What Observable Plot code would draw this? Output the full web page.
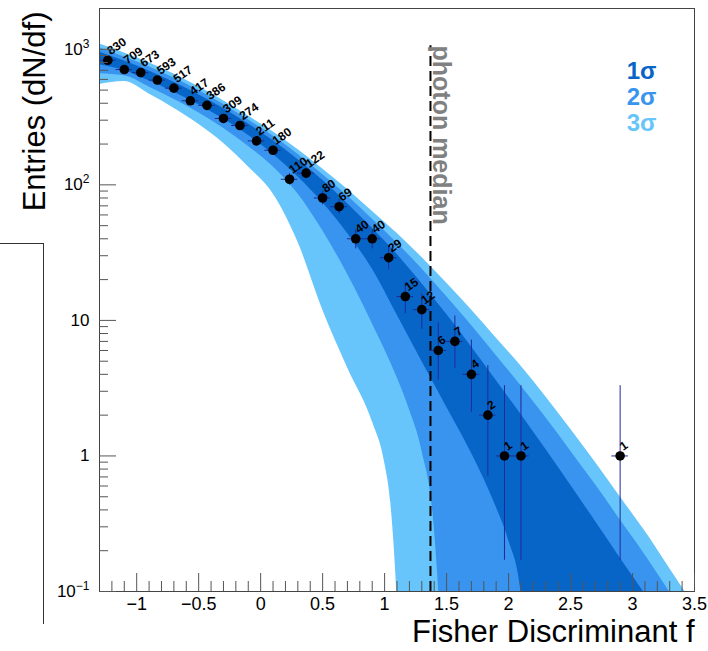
<!DOCTYPE html>
<html>
<head>
<meta charset="utf-8">
<script src="https://cdn.jsdelivr.net/npm/d3@7"></script>
<script src="https://cdn.jsdelivr.net/npm/@observablehq/plot@0.6"></script>
<style>
  html, body { margin: 0; padding: 0; background: #fff; }
  #wrap { position: relative; width: 708px; height: 651px; overflow: hidden; font-family: "Liberation Sans", Arial, sans-serif; }
  #sidebox { position: absolute; z-index: 2; left: -2px; top: 243px; width: 45px; height: 380px; border-top: 1px solid #333; border-right: 1px solid #333; }
  #chart { position: absolute; z-index: 1; left: 0; top: 0; }
</style>
</head>
<body>
<div id="wrap"><div id="chart"></div><div id="sidebox"></div></div>
<script>
// ---------- data ----------
const binCenters = [-1.233, -1.1, -0.967, -0.833, -0.7, -0.567, -0.433, -0.3, -0.167, -0.033,
  0.1, 0.233, 0.367, 0.5, 0.633, 0.767, 0.9, 1.033, 1.167, 1.3, 1.433, 1.567, 1.7, 1.833, 1.967, 2.1, 2.9];
const counts = [830, 709, 673, 593, 517, 417, 386, 309, 274, 211,
  180, 110, 122, 80, 69, 40, 40, 29, 15, 12, 6, 7, 4, 2, 1, 1, 1];
const errLow = [801, 682, 647, 569, 494, 397, 366, 291, 258, 197,
  167, 99.5, 111, 71.2, 60.7, 33.7, 33.7, 23.6, 11.2, 8.6, 3.62, 4.42, 2.09, 0.71, 0.17, 0.17, 0.17];
const errHigh = [859, 736, 699, 617, 540, 437, 406, 327, 291, 226,
  194, 121, 133, 89.4, 77.8, 46.8, 46.8, 34.9, 19.0, 15.7, 9.58, 10.77, 7.16, 4.64, 3.30, 3.30, 3.30];
const halfBin = 0.0667;

// band edges
const hiF = [-1.3, -1.1, -0.9, -0.7, -0.5, -0.3, -0.1, 0.1, 0.3, 0.5, 0.7, 0.9, 1.1, 1.3, 1.5, 1.7, 1.9, 2.1, 2.3, 2.5, 2.7, 2.9, 3.1, 3.3, 3.5];
const hi3 = [1092, 939, 796, 657, 530, 418, 322, 246, 182, 131, 93, 64, 44, 29.2, 18.9, 12.0, 7.43, 4.6, 2.73, 1.58, 0.90, 0.50, 0.279, 0.148, 0.078];
const hi2 = [1021, 879, 744, 615, 497, 392, 302, 229, 168, 119, 83, 56, 37.3, 24.0, 15.0, 9.2, 5.5, 3.3, 1.92, 1.09, 0.615, 0.338, 0.187, 0.099, 0.052];
const hi1 = [951, 820, 692, 572, 463, 366, 282, 212, 154, 108, 73, 48, 30.7, 18.7, 11.1, 6.4, 3.6, 2.03, 1.12, 0.61, 0.33, 0.177, 0.096, 0.050, 0.026];

const lo1F = [-1.3, -1.1, -0.9, -0.7, -0.5, -0.3, -0.1, 0.1, 0.3, 0.5, 0.7, 0.9, 1.1, 1.3, 1.5, 1.7, 1.9, 2.0, 2.1, 2.2];
const lo1 = [770, 699, 585, 482, 390, 306, 232, 168, 115, 74, 44, 24, 11, 5.0, 2.3, 1.05, 0.42, 0.24, 0.1, 0.005];
const lo2F = [-1.3, -1.1, -0.9, -0.7, -0.5, -0.3, -0.1, 0.1, 0.3, 0.5, 0.7, 0.9, 1.1, 1.2, 1.3, 1.4, 1.45, 1.5];
const lo2 = [660, 638, 528, 428, 340, 262, 193, 136, 86, 46, 22, 9.5, 3.8, 2.2, 1.1, 0.3, 0.06, 0.005];
const lo3F = [-1.3, -1.1, -0.9, -0.7, -0.5, -0.3, -0.1, 0.1, 0.3, 0.5, 0.7, 0.9, 1.0, 1.05, 1.1, 1.15];
const lo3 = [550, 578, 468, 368, 280, 203, 136, 86, 38, 12, 4.5, 1.8, 0.9, 0.45, 0.09, 0.005];

const photonMedian = 1.37;
const medianTop = 1060;

const xMajor = [-1, -0.5, 0, 0.5, 1, 1.5, 2, 2.5, 3, 3.5];
const xMinor = [-1.2, -1.1, -0.9, -0.8, -0.7, -0.6, -0.4, -0.3, -0.2, -0.1, 0.1, 0.2, 0.3, 0.4, 0.6, 0.7, 0.8, 0.9,
  1.1, 1.2, 1.3, 1.4, 1.6, 1.7, 1.8, 1.9, 2.1, 2.2, 2.3, 2.4, 2.6, 2.7, 2.8, 2.9, 3.1, 3.2, 3.3, 3.4];
const yMajor = [0.1, 1, 10, 100, 1000];
const yMinor = [0.2, 0.3, 0.4, 0.5, 0.6, 0.7, 0.8, 0.9, 2, 3, 4, 5, 6, 7, 8, 9,
  20, 30, 40, 50, 60, 70, 80, 90, 200, 300, 400, 500, 600, 700, 800, 900];
const yTickText = {0.1: "10^\u22121", 1: "1", 10: "10", 100: "10^2", 1000: "10^3"};

const legendLabels = ["1\u03c3", "2\u03c3", "3\u03c3"];
const xTitle = "Fisher Discriminant f";
const yTitle = "Entries (dN/df)";
const medianLabel = "photon median";

// ---------- styles ----------
const c1 = "#0865c8", c2 = "#3894ee", c3 = "#68c5fb";
const errColor = "#1f2a9a";
const floorVal = 1e-3;

const pts = counts.map((v, i) => ({f: binCenters[i], v, lo: errLow[i], hi: errHigh[i]}));
const edge = (F, V) => F.map((f, i) => ({f, v: V[i]}));
const bandArea = (F, V, fill) => Plot.areaY(edge(F, V), {x: "f", y1: "v", y2: () => floorVal, fill, curve: "monotone-x", clip: true});
const fmtX = d => (d < 0 ? "\u2212" : "") + String(Math.abs(d));

const chart = Plot.plot({
  width: 708,
  height: 651,
  marginLeft: 99,
  marginRight: 14,
  marginTop: 8,
  marginBottom: 60,
  style: {fontFamily: "'Liberation Sans', Arial, sans-serif", background: "transparent", color: "#000"},
  x: {domain: [-1.3, 3.5], label: null},
  y: {type: "log", domain: [0.1, 2000], label: null},
  marks: [
    bandArea(hiF, hi3, c3),
    bandArea(hiF, hi2, c2),
    bandArea(hiF, hi1, c1),
    bandArea(lo1F, lo1, c2),
    bandArea(lo2F, lo2, c3),
    bandArea(lo3F, lo3, "#fff"),
    Plot.ruleX([photonMedian], {x: d => d, y1: 0.1, y2: medianTop, stroke: "#000", strokeWidth: 2, strokeDasharray: "10,5"}),
    Plot.text([medianLabel], {x: () => photonMedian, frameAnchor: "top", dy: 37, dx: 11, rotate: 90, textAnchor: "start", lineAnchor: "middle", fill: "#808080", fontSize: 25, fontWeight: "bold"}),
    Plot.ruleX(pts, {x: "f", y1: "lo", y2: "hi", stroke: errColor, strokeWidth: 1}),
    Plot.ruleY(pts, {y: "v", x1: d => d.f - halfBin, x2: d => d.f + halfBin, stroke: errColor, strokeWidth: 1}),
    Plot.dot(pts, {x: "f", y: "v", r: 4.8, fill: "#000", stroke: "none"}),
    Plot.text(pts, {x: "f", y: "v", text: d => String(d.v), rotate: -35, textAnchor: "start", lineAnchor: "bottom", dx: 3, dy: -5, fontSize: 12, fontWeight: "bold", fill: "#000"}),
    Plot.frame({stroke: "#444", strokeWidth: 1}),
    Plot.axisX({ticks: xMajor, tickSize: -18, fill: "none", label: null, stroke: "#555"}),
    Plot.axisX({ticks: xMinor, tickSize: -10, fill: "none", label: null, stroke: "#555"}),
    Plot.axisX({ticks: xMajor, tickSize: 0, tickPadding: 6, fontSize: 18, tickFormat: fmtX, label: null}),
    Plot.axisY({ticks: yMajor, tickSize: -17, fill: "none", label: null, stroke: "#555"}),
    Plot.axisY({ticks: yMinor, tickSize: -9, fill: "none", label: null, stroke: "#555"}),
    Plot.axisY({ticks: yMajor, tickSize: 0, tickPadding: 10, fontSize: 17, tickFormat: d => yTickText[d], label: null}),
    ...legendLabels.map((t, i) => Plot.text([t], {frameAnchor: "top-right", textAnchor: "end", lineAnchor: "top", dx: -38, dy: 53 + i * 26, fill: [c1, c2, c3][i], fontSize: 24, fontWeight: "bold"})),
    Plot.text([yTitle], {frameAnchor: "top-left", rotate: -90, textAnchor: "end", lineAnchor: "middle", dx: -64, dy: 3, fontSize: 31}),
    Plot.text([xTitle], {frameAnchor: "bottom-right", textAnchor: "end", lineAnchor: "middle", dy: 41, fontSize: 31})
  ]
});

// superscripts on the y tick labels
const ns = "http://www.w3.org/2000/svg";
chart.querySelectorAll("text").forEach(t => {
  const s = t.textContent;
  if (s.includes("^")) {
    const [b, e] = s.split("^");
    t.textContent = "";
    const t1 = document.createElementNS(ns, "tspan");
    t1.textContent = b;
    const t2 = document.createElementNS(ns, "tspan");
    t2.textContent = e;
    t2.setAttribute("dy", "-7");
    t2.setAttribute("font-size", "12");
    t.append(t1, t2);
  }
});

document.getElementById("chart").appendChild(chart);
</script>
</body>
</html>
